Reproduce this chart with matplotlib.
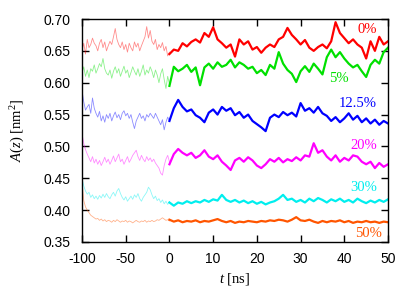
import numpy as np
import matplotlib
matplotlib.use("Agg")
import matplotlib.pyplot as plt

# time axes (ns): equilibration part sampled every 2 ns, production every 1 ns
t_neg = np.arange(-100, 1, 2)
t_pos = np.arange(0, 51, 1)

labels = ["0%", "5%", "12.5%", "20%", "30%", "50%"]
colors = ["#ff0000", "#00e000", "#0000ff", "#ff00ff", "#00eeee", "#ff5500"]

red_neg = [0.650, 0.662, 0.645, 0.668, 0.655, 0.660, 0.670, 0.662, 0.658, 0.650,
           0.662, 0.668, 0.655, 0.664, 0.650, 0.658, 0.665, 0.660, 0.672, 0.685,
           0.668, 0.660, 0.655, 0.664, 0.652, 0.660, 0.648, 0.662, 0.655, 0.650,
           0.664, 0.656, 0.662, 0.650, 0.658, 0.665, 0.672, 0.688, 0.670, 0.682,
           0.665, 0.660, 0.668, 0.652, 0.660, 0.655, 0.663, 0.650, 0.657, 0.642,
           0.648]
green_neg = [0.615, 0.625, 0.610, 0.620, 0.608, 0.622, 0.618, 0.628, 0.615, 0.622,
             0.630, 0.625, 0.638, 0.622, 0.615, 0.612, 0.620, 0.607, 0.618, 0.625,
             0.615, 0.622, 0.610, 0.618, 0.626, 0.615, 0.620, 0.608, 0.616, 0.625,
             0.618, 0.612, 0.622, 0.610, 0.618, 0.628, 0.612, 0.620, 0.615, 0.625,
             0.618, 0.608, 0.620, 0.612, 0.600, 0.614, 0.622, 0.605, 0.591, 0.610,
             0.598]
blue_neg = [0.588, 0.570, 0.557, 0.562, 0.566, 0.552, 0.576, 0.560, 0.552, 0.546,
            0.555, 0.540, 0.548, 0.538, 0.550, 0.544, 0.552, 0.540, 0.548, 0.554,
            0.545, 0.550, 0.542, 0.552, 0.556, 0.548, 0.552, 0.544, 0.550, 0.538,
            0.528, 0.540, 0.546, 0.552, 0.544, 0.548, 0.540, 0.550, 0.546, 0.552,
            0.548, 0.544, 0.552, 0.546, 0.540, 0.534, 0.542, 0.526, 0.538, 0.546,
            0.540]
magenta_neg = [0.520, 0.505, 0.495, 0.488, 0.482, 0.476, 0.484, 0.474, 0.480, 0.472,
               0.478, 0.470, 0.476, 0.483, 0.475, 0.480, 0.472, 0.478, 0.485, 0.476,
               0.482, 0.488, 0.476, 0.480, 0.472, 0.478, 0.484, 0.475, 0.480, 0.486,
               0.490, 0.494, 0.484, 0.478, 0.486, 0.480, 0.476, 0.484, 0.478, 0.482,
               0.476, 0.480, 0.474, 0.470, 0.466, 0.458, 0.455, 0.470, 0.480, 0.486,
               0.476]
cyan_neg = [0.450, 0.438, 0.430, 0.425, 0.428, 0.420, 0.424, 0.418, 0.422, 0.417,
            0.423, 0.419, 0.425, 0.420, 0.426, 0.421, 0.418, 0.424, 0.428, 0.422,
            0.430, 0.434, 0.426, 0.420, 0.416, 0.421, 0.414, 0.418, 0.422, 0.417,
            0.424, 0.420, 0.426, 0.418, 0.414, 0.420, 0.424, 0.428, 0.436, 0.432,
            0.424, 0.418, 0.422, 0.415, 0.418, 0.412, 0.416, 0.410, 0.414, 0.409,
            0.413]
orange_neg = [0.445, 0.415, 0.405, 0.400, 0.396, 0.392, 0.390, 0.388, 0.386, 0.387,
              0.384, 0.386, 0.383, 0.385, 0.382, 0.384, 0.383, 0.381, 0.384, 0.382,
              0.385, 0.383, 0.381, 0.383, 0.382, 0.384, 0.381, 0.383, 0.382, 0.380,
              0.382, 0.384, 0.382, 0.381, 0.383, 0.382, 0.384, 0.381, 0.383, 0.382,
              0.384, 0.382, 0.383, 0.385, 0.384, 0.386, 0.388, 0.386, 0.384, 0.385,
              0.383]

red_pos = [0.645, 0.652, 0.650, 0.662, 0.657, 0.664, 0.668, 0.663, 0.678, 0.672,
           0.687, 0.668, 0.662, 0.655, 0.660, 0.641, 0.668, 0.660, 0.665, 0.652,
           0.656, 0.647, 0.655, 0.660, 0.656, 0.668, 0.672, 0.686, 0.675, 0.668,
           0.660, 0.667, 0.655, 0.650, 0.656, 0.660, 0.654, 0.665, 0.695, 0.678,
           0.670, 0.662, 0.668, 0.660, 0.655, 0.638, 0.665, 0.650, 0.672, 0.660,
           0.665]
green_pos = [0.595, 0.625, 0.618, 0.622, 0.628, 0.617, 0.624, 0.596, 0.624, 0.630,
             0.622, 0.632, 0.625, 0.628, 0.636, 0.624, 0.632, 0.628, 0.622, 0.625,
             0.615, 0.620, 0.612, 0.628, 0.622, 0.648, 0.630, 0.620, 0.614, 0.601,
             0.618, 0.626, 0.617, 0.630, 0.622, 0.613, 0.640, 0.652, 0.640, 0.648,
             0.638, 0.630, 0.624, 0.628, 0.618, 0.609, 0.628, 0.636, 0.630, 0.648,
             0.655]
blue_pos = [0.540, 0.560, 0.573, 0.562, 0.555, 0.558, 0.549, 0.545, 0.538, 0.553,
            0.558, 0.550, 0.562, 0.556, 0.560, 0.549, 0.554, 0.545, 0.550, 0.540,
            0.535, 0.530, 0.524, 0.545, 0.550, 0.546, 0.554, 0.549, 0.553, 0.547,
            0.568, 0.556, 0.560, 0.553, 0.562, 0.552, 0.548, 0.540, 0.546, 0.538,
            0.544, 0.552, 0.542, 0.548, 0.538, 0.544, 0.536, 0.542, 0.534, 0.540,
            0.536]
magenta_pos = [0.472, 0.488, 0.496, 0.490, 0.486, 0.490, 0.482, 0.486, 0.494, 0.484,
               0.480, 0.486, 0.476, 0.470, 0.463, 0.478, 0.482, 0.476, 0.483, 0.478,
               0.470, 0.466, 0.472, 0.480, 0.476, 0.482, 0.475, 0.480, 0.477, 0.483,
               0.478, 0.486, 0.484, 0.505, 0.490, 0.494, 0.484, 0.478, 0.486, 0.476,
               0.482, 0.478, 0.486, 0.484, 0.476, 0.472, 0.476, 0.466, 0.474, 0.468,
               0.472]
cyan_pos = [0.412, 0.407, 0.412, 0.410, 0.414, 0.411, 0.414, 0.412, 0.416, 0.413,
            0.417, 0.415, 0.424, 0.416, 0.413, 0.416, 0.412, 0.415, 0.411, 0.414,
            0.410, 0.413, 0.409, 0.412, 0.414, 0.418, 0.424, 0.416, 0.418, 0.413,
            0.416, 0.412, 0.418, 0.414, 0.419, 0.416, 0.412, 0.417, 0.414, 0.418,
            0.413, 0.416, 0.412, 0.418, 0.414, 0.411, 0.415, 0.412, 0.416, 0.413,
            0.417]
orange_pos = [0.385, 0.382, 0.384, 0.381, 0.383, 0.382, 0.384, 0.381, 0.383, 0.382,
              0.384, 0.386, 0.383, 0.381, 0.383, 0.380, 0.382, 0.381, 0.383, 0.382,
              0.381, 0.383, 0.382, 0.384, 0.383, 0.385, 0.384, 0.382, 0.385, 0.389,
              0.384, 0.383, 0.385, 0.382, 0.380, 0.383, 0.381, 0.383, 0.382, 0.384,
              0.381, 0.383, 0.380, 0.382, 0.381, 0.383, 0.381, 0.382, 0.380, 0.382,
              0.381]

neg_series = [red_neg, green_neg, blue_neg, magenta_neg, cyan_neg, orange_neg]
pos_series = [red_pos, green_pos, blue_pos, magenta_pos, cyan_pos, orange_pos]

# label anchors (t, A) next to the right end of each curve
label_t = [45.2, 38.8, 43.0, 44.5, 44.5, 45.5]
label_y = [0.683, 0.607, 0.568, 0.501, 0.435, 0.3626]

plt.rcParams["mathtext.fontset"] = "custom"
plt.rcParams["mathtext.rm"] = "Liberation Serif"
plt.rcParams["mathtext.it"] = "Liberation Serif:italic"

# negative times are squeezed to 1/5 of the scale
K = 0.2


def fwd(x):
    x = np.asarray(x, dtype=float)
    return np.where(x < 0, x * K, x)


def inv(x):
    x = np.asarray(x, dtype=float)
    return np.where(x < 0, x / K, x)


fig = plt.figure(figsize=(4.15, 2.91), dpi=100)
ax = fig.add_axes([0.1976, 0.1684, 0.7374, 0.7663])
ax.set_xscale("function", functions=(fwd, inv))

for yn, yp, c in zip(neg_series, pos_series, colors):
    ax.plot(t_neg, yn, color=c, lw=0.6, alpha=0.45)
    ax.plot(t_pos, yp, color=c, lw=1.6)

for lab, tx, ty, c in zip(labels, label_t, label_y, colors):
    ax.text(tx, ty, lab, color=c, ha="center", va="center",
            fontsize=10.5, family="Liberation Serif")

ax.set_xlim(-100, 50)
ax.set_ylim(0.35, 0.70)
ax.set_xticks([-100, -50, 0, 10, 20, 30, 40, 50])
ax.set_yticks(np.arange(0.35, 0.701, 0.05))
ax.set_xticklabels(["-100", "-50", "0", "10", "20", "30", "40", "50"])
ax.set_yticklabels(["%.2f" % v for v in np.arange(0.35, 0.701, 0.05)])
ax.tick_params(direction="in", top=True, right=True, length=5, width=1,
               labelsize=10)
ax.tick_params(axis="y", pad=8)
ax.tick_params(axis="x", pad=7)
for lbl in ax.get_xticklabels() + ax.get_yticklabels():
    lbl.set_family("Liberation Sans")
for s in ax.spines.values():
    s.set_linewidth(1)

ax.set_xlabel(r"$t\ [\mathrm{ns}]$", fontsize=10.5, labelpad=4)
ax.set_ylabel(r"$A(z)\ [\mathrm{nm}^2]$", fontsize=10.5, labelpad=12)

fig.savefig("out.png", dpi=100)
